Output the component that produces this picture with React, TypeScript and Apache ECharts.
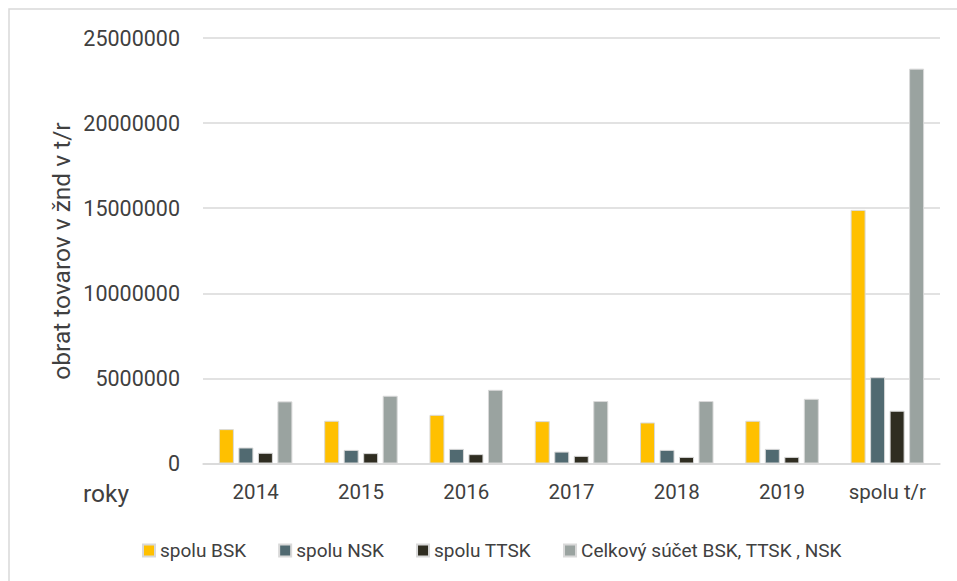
import React, { useEffect, useRef } from "react";
import * as echarts from "echarts";

const categories = ["2014", "2015", "2016", "2017", "2018", "2019", "spolu t/r"];
const bsk = [2020000, 2510000, 2860000, 2490000, 2410000, 2510000, 14900000];
const nsk = [940000, 800000, 860000, 700000, 800000, 860000, 5070000];
const ttsk = [630000, 610000, 550000, 450000, 390000, 390000, 3100000];
const total = [3650000, 3980000, 4330000, 3670000, 3670000, 3800000, 23200000];
const seriesNames = ["spolu BSK", "spolu NSK", "spolu TTSK", "Celkový súčet BSK, TTSK , NSK"];
const colors = ["#FFC000", "#516A71", "#2F2D21", "#9AA3A0"];

const FONT = "Roboto";
const TXT = "#404040";

export default function App() {
  const ref = useRef<HTMLDivElement>(null);
  useEffect(() => {
    document.body.style.margin = "0";
    if (!ref.current) return;
    const chart = echarts.init(ref.current, null, { renderer: "svg" });
    const data = [bsk, nsk, ttsk, total];
    chart.setOption({
      animation: false,
      color: colors,
      textStyle: { fontFamily: FONT, color: TXT },
      grid: { left: 203, right: 17, top: 38, bottom: 117.5, containLabel: false },
      xAxis: {
        type: "category",
        data: categories,
        axisLine: { show: true, lineStyle: { color: "#d9d9d9", width: 1.5 } },
        axisTick: { show: false },
        axisLabel: { color: TXT, fontSize: 20.5, fontFamily: FONT, margin: 18 },
      },
      yAxis: {
        type: "value",
        min: 0,
        max: 25000000,
        interval: 5000000,
        axisLine: { show: false },
        axisTick: { show: false },
        splitLine: { lineStyle: { color: "#d9d9d9", width: 1.5 } },
        axisLabel: {
          color: TXT,
          fontSize: 21.5,
          fontFamily: FONT,
          margin: 23,
          formatter: (v: number) => String(v),
        },
      },
      legend: {
        left: 137,
        top: 536,
        itemWidth: 12,
        itemHeight: 12,
        itemGap: 32,
        icon: "rect",
        textStyle: { color: TXT, fontSize: 19, fontFamily: FONT },
        data: seriesNames,
      },
      graphic: [
        {
          type: "rect",
          shape: { x: 9, y: 9, width: 1000, height: 700 },
          style: { fill: "none", stroke: "#d9d9d9", lineWidth: 1.5 },
          silent: true,
        },
        {
          type: "text",
          x: 61,
          y: 251,
          rotation: Math.PI / 2,
          style: {
            text: "obrat tovarov v žnd v t/r",
            fontSize: 24.5,
            fontFamily: FONT,
            fill: TXT,
            align: "center",
            verticalAlign: "middle",
          },
        },
        {
          type: "text",
          x: 106,
          y: 493,
          style: {
            text: "roky",
            fontSize: 24.5,
            fontFamily: FONT,
            fill: TXT,
            align: "center",
            verticalAlign: "middle",
          },
        },
      ],
      series: seriesNames.map((name, i) => ({
        name,
        type: "bar",
        data: data[i],
        barWidth: 15,
        barGap: "30%",
        itemStyle: { color: colors[i], borderColor: "#d9d9d9", borderWidth: 1 },
      })),
    });
    return () => chart.dispose();
  }, []);
  return <div ref={ref} style={{ width: 957, height: 581, background: "#fff" }} />;
}
